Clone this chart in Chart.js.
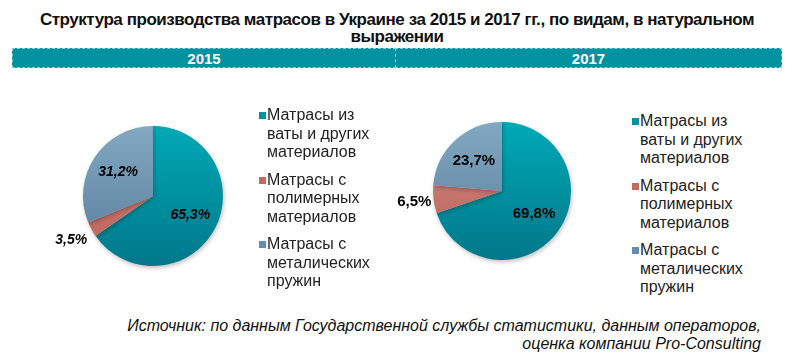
<!DOCTYPE html>
<html>
<head>
<meta charset="utf-8">
<script src="https://cdn.jsdelivr.net/npm/chart.js@4/dist/chart.umd.min.js"></script>
<style>
  body { margin: 0; background: #fff; font-family: "Liberation Sans", Arial, sans-serif; }
  #wrap { position: relative; width: 794px; height: 362px; overflow: hidden; }
  #title { position: absolute; left: 0; top: 11px; width: 794px; text-align: center;
           font-weight: bold; font-size: 17px; line-height: 17px; letter-spacing: -0.45px; color: #111; }
  .band { position: absolute; top: 48px; height: 20px; background: #00939F; color: #fff;
          font-weight: bold; font-size: 15px; line-height: 19px; text-align: center;
          border: 1px dashed rgba(255,255,255,0.55); box-sizing: border-box; }
  canvas { position: absolute; }
  .legend { position: absolute; font-size: 16px; line-height: 18.5px; color: #222; }
  .legend .item { position: relative; padding-left: 8px; margin-bottom: 9px; }
  .legend .box { position: absolute; left: 0; top: 6px; width: 7px; height: 7px; }
  #source { position: absolute; right: 33px; top: 317px; text-align: right;
            font-style: italic; font-size: 16px; line-height: 18px; color: #111; }
</style>
</head>
<body>
<div id="wrap">
  <div id="title">Структура производства матрасов в Украине за 2015 и 2017 гг., по видам, в натуральном<br>выражении</div>
  <div class="band" id="band1" style="left:12px; width:384px;"></div>
  <div class="band" id="band2" style="left:395px; width:387px;"></div>
  <canvas id="pie2015" width="226" height="180" style="left:40px; top:106px;"></canvas>
  <canvas id="pie2017" width="224" height="178" style="left:390px; top:102px;"></canvas>
  <div class="legend" id="legend2015" style="left:259px; top:106px;"></div>
  <div class="legend" id="legend2017" style="left:632px; top:112px;"></div>
  <div id="source">Источник: по данным Государственной службы статистики, данным операторов,<br>оценка компании Pro-Consulting</div>
</div>
<script>
// Данные
const years = ['2015', '2017'];
const categories = [
    ['Матрасы из', 'ваты и других', 'материалов'],
    ['Матрасы с', 'полимерных', 'материалов'],
    ['Матрасы с', 'металических', 'пружин']
];
const values2015 = [65.3, 3.5, 31.2];
const values2017 = [69.8, 6.5, 23.7];

// Цвета: верх / низ градиента и цвет маркера легенды
const topColors = ['#00A9B6', '#D88D84', '#82A8C2'];
const bottomColors = ['#00788A', '#B65F56', '#557B98'];
const markerColors = ['#00929E', '#C06A61', '#668DAB'];

document.getElementById('band1').textContent = years[0];
document.getElementById('band2').textContent = years[1];

// Подписи процентов на секторах
const sliceLabels = {
    id: 'sliceLabels',
    afterDatasetsDraw(chart, args, opts) {
        const ctx = chart.ctx;
        const meta = chart.getDatasetMeta(0);
        const values = chart.data.datasets[0].data;
        ctx.save();
        ctx.font = opts.font;
        ctx.fillStyle = '#000';
        ctx.textAlign = 'center';
        ctx.textBaseline = 'middle';
        meta.data.forEach((arc, i) => {
            const p = arc.getProps(['x', 'y', 'startAngle', 'endAngle', 'outerRadius'], true);
            const mid = (p.startAngle + p.endAngle) / 2;
            const r = p.outerRadius * opts.radii[i];
            const txt = values[i].toFixed(1).replace('.', ',') + '%';
            ctx.fillText(txt, p.x + Math.cos(mid) * r, p.y + Math.sin(mid) * r);
        });
        ctx.restore();
    }
};

// Лёгкая тень под круговой диаграммой
const pieShadow = {
    id: 'pieShadow',
    beforeDatasetsDraw(chart) {
        const ctx = chart.ctx;
        ctx.save();
        ctx.shadowColor = 'rgba(0,0,0,0.25)';
        ctx.shadowBlur = 4;
        ctx.shadowOffsetX = 1;
        ctx.shadowOffsetY = 2;
    },
    afterDatasetsDraw(chart) {
        chart.ctx.restore();
    }
};

function sliceColor(c) {
    const area = c.chart.chartArea;
    if (!area) return topColors[c.dataIndex];
    const g = c.chart.ctx.createLinearGradient(0, area.top, 0, area.bottom);
    g.addColorStop(0, topColors[c.dataIndex]);
    g.addColorStop(1, bottomColors[c.dataIndex]);
    return g;
}

function makePie(id, values, labelOpts) {
    return new Chart(document.getElementById(id), {
        type: 'pie',
        data: {
            labels: categories.map(l => l.join(' ')),
            datasets: [{
                data: values,
                backgroundColor: sliceColor,
                borderWidth: 0
            }]
        },
        options: {
            responsive: false,
            animation: false,
            layout: { padding: { left: 43, right: 43, top: 20, bottom: 20 } },
            plugins: {
                legend: { display: false },
                tooltip: { enabled: false },
                sliceLabels: labelOpts
            }
        },
        plugins: [pieShadow, sliceLabels]
    });
}

makePie('pie2015', values2015, {
    font: 'italic bold 14px "Liberation Sans", Arial, sans-serif',
    radii: [0.6, 1.33, 0.6]
});
makePie('pie2017', values2017, {
    font: 'bold 15px "Liberation Sans", Arial, sans-serif',
    radii: [0.57, 1.28, 0.6]
});

// Легенды
function makeLegend(id) {
    const el = document.getElementById(id);
    categories.forEach((lines, i) => {
        const item = document.createElement('div');
        item.className = 'item';
        item.innerHTML = '<span class="box" style="background:' + markerColors[i] + '"></span>' + lines.join('<br>');
        el.appendChild(item);
    });
}
makeLegend('legend2015');
makeLegend('legend2017');
</script>
</body>
</html>
